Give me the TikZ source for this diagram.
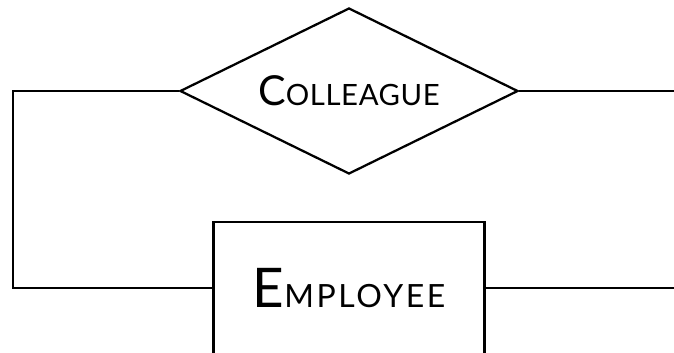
\documentclass[tikz,border=0pt]{standalone}
\usepackage{fontspec}
\setmainfont{Lato}
\usetikzlibrary{shapes.geometric}

% first letter big, the rest as smaller capitals (spaced out a little)
\newcommand{\capsname}[5]{{\fontsize{#1pt}{#1pt}\selectfont #2}{\fontsize{#3pt}{#3pt}\selectfont\addfontfeatures{LetterSpace=#5}#4}}

\begin{document}
\begin{tikzpicture}[
    x=0.75pt, y=-0.75pt,  % one unit = one pixel of the layout
    line width=1.7pt,
    rel/.style = {draw, diamond, inner sep=0pt, shape aspect=2.036, minimum width=253.5pt, minimum height=124.5pt},
    ent/.style = {draw, rectangle, inner sep=0pt, minimum width=203.25pt, minimum height=99pt}
  ]
    \useasboundingbox (0,0) rectangle (674,353);

    \node[rel] (colleague) at (349,91) {\capsname{31}{C}{22}{OLLEAGUE}{2}};
    \node[ent] (employee) at (349,288) {\capsname{41}{E}{24}{MPLOYEE}{8}};

    \coordinate (loop) at (13,91);        % left corner of the loop
    \coordinate (topend) at (676,91);     % runs off to the right
    \coordinate (botend) at (676,288);

    \draw (colleague.west) -- (loop) |- (employee.west);
    \draw (colleague.east) -- (topend);
    \draw (employee.east) -- (botend);
  \end{tikzpicture}
\end{document}
